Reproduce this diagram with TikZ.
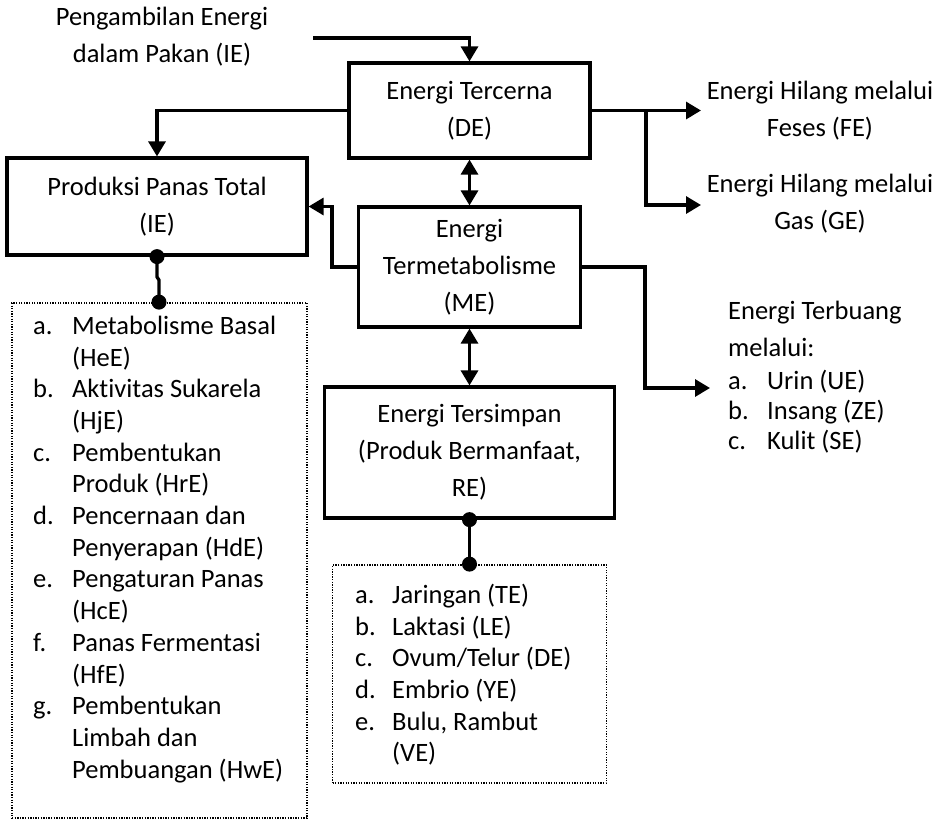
\documentclass[tikz,border=0pt]{standalone}
\usepackage{fontspec}
\setmainfont{Carlito}[Ligatures=NoCommon]
\usetikzlibrary{arrows.meta}
\begin{document}
\begin{tikzpicture}[x=1pt,y=-1pt,
  box/.style={draw,line width=3.2pt,rectangle,inner sep=0pt,align=center,font=\fontsize{26.5}{37}\selectfont},
  listbox/.style={draw,line width=1.8pt,dash pattern=on 1.3pt off 1.3pt,rectangle,inner sep=0pt},
  txt/.style={inner sep=0pt,align=center,font=\fontsize{26.5}{37}\selectfont},
  listtxt/.style={inner sep=0pt,anchor=north west,font=\fontsize{26.5}{31.7}\selectfont},
  conn/.style={line width=3.2pt},
  arr/.style={line width=3.2pt,-{Triangle[length=15pt,width=17pt]}},
  darr/.style={line width=3.2pt,{Triangle[length=15pt,width=17pt]}-{Triangle[length=15pt,width=17pt]}},
  dot/.style={circle,fill=black,inner sep=0pt,minimum size=15pt}]
\useasboundingbox (0,0) rectangle (943,820);
\fill[white] (0,0) rectangle (943,820);

% boxes
\node[box,minimum width=241pt,minimum height=95pt] (de) at (469.5,110.5) {Energi Tercerna\\(DE)};
\node[box,minimum width=300pt,minimum height=97pt] (prod) at (157,206.5) {Produksi Panas Total\\(IE)};
\node[box,minimum width=222pt,minimum height=120pt] (me) at (469.5,267) {Energi\\Termetabolisme\\(ME)};
\node[box,minimum width=290pt,minimum height=131pt] (rs) at (469.5,452.5) {Energi Tersimpan\\(Produk Bermanfaat,\\RE)};
\node[listbox,minimum width=295pt,minimum height=515pt] (hl) at (159.5,560.5) {};
\node[listbox,minimum width=274pt,minimum height=218pt] (rl) at (469.5,674) {};

% free texts
\node[txt] (ie) at (162,36.5) {Pengambilan Energi\\dalam Pakan (IE)};
\node[txt] (fe) at (820,111) {Energi Hilang melalui\\Feses (FE)};
\node[txt] (ge) at (820,203.5) {Energi Hilang melalui\\Gas (GE)};
\node[inner sep=0pt,anchor=north west,font=\fontsize{26.5}{30}\selectfont] (tb) at (728,298) {%
\begin{tabular}{@{}p{39pt}@{}l@{}}
\multicolumn{2}{@{}l@{}}{Energi Terbuang}\\[7pt]
\multicolumn{2}{@{}l@{}}{melalui:}\\[3pt]
a. & Urin (UE)\\
b. & Insang (ZE)\\
c. & Kulit (SE)
\end{tabular}};

% list texts
\node[listtxt] (hltxt) at (33,312) {%
\begin{tabular}{@{}p{39pt}@{}l@{}}
a. & Metabolisme Basal\\
   & (HeE)\\
b. & Aktivitas Sukarela\\
   & (HjE)\\
c. & Pembentukan\\
   & Produk (HrE)\\
d. & Pencernaan dan\\
   & Penyerapan (HdE)\\
e. & Pengaturan Panas\\
   & (HcE)\\
f. & Panas Fermentasi\\
   & (HfE)\\
g. & Pembentukan\\
   & Limbah dan\\
   & Pembuangan (HwE)
\end{tabular}};
\node[listtxt] (rltxt) at (355,581) {%
\begin{tabular}{@{}p{37pt}@{}l@{}}
a. & Jaringan (TE)\\
b. & Laktasi (LE)\\
c. & Ovum/Telur (DE)\\
d. & Embrio (YE)\\
e. & Bulu, Rambut\\
   & (VE)
\end{tabular}};

% coordinates
\coordinate (iestart) at (313,38);
\coordinate (k1) at (332,206.5);
\coordinate (br) at (646,110.5);
\coordinate (fein) at (701,110.5);
\coordinate (gein) at (701,205);
\coordinate (k2) at (645,388);
\coordinate (tbin) at (710,388);
\coordinate (j1) at (157,277);
\coordinate (j2) at (159,280);

% connectors
\draw[arr] (iestart) -| (de.north);
\draw[arr] (de.west) -| (prod.north);
\draw[darr] (de.south) -- (me.north);
\draw[arr] (me.west) -| (k1) -- (prod.east);
\draw[arr] (de.east) -- (fein);
\draw[arr] (br) |- (gein);
\draw[arr] (me.east) -| (k2) -- (tbin);
\draw[darr] (me.south) -- (rs.north);
\draw[conn] (prod.south) -- (j1) -- (j2) -- (j2 |- hl.north);
\node[dot] (d1) at (prod.south) {};
\node[dot] (d2) at (j2 |- hl.north) {};
\draw[conn] (rs.south) -- (rl.north);
\node[dot] (d3) at (rs.south) {};
\node[dot] (d4) at (rl.north) {};
\end{tikzpicture}
\end{document}
